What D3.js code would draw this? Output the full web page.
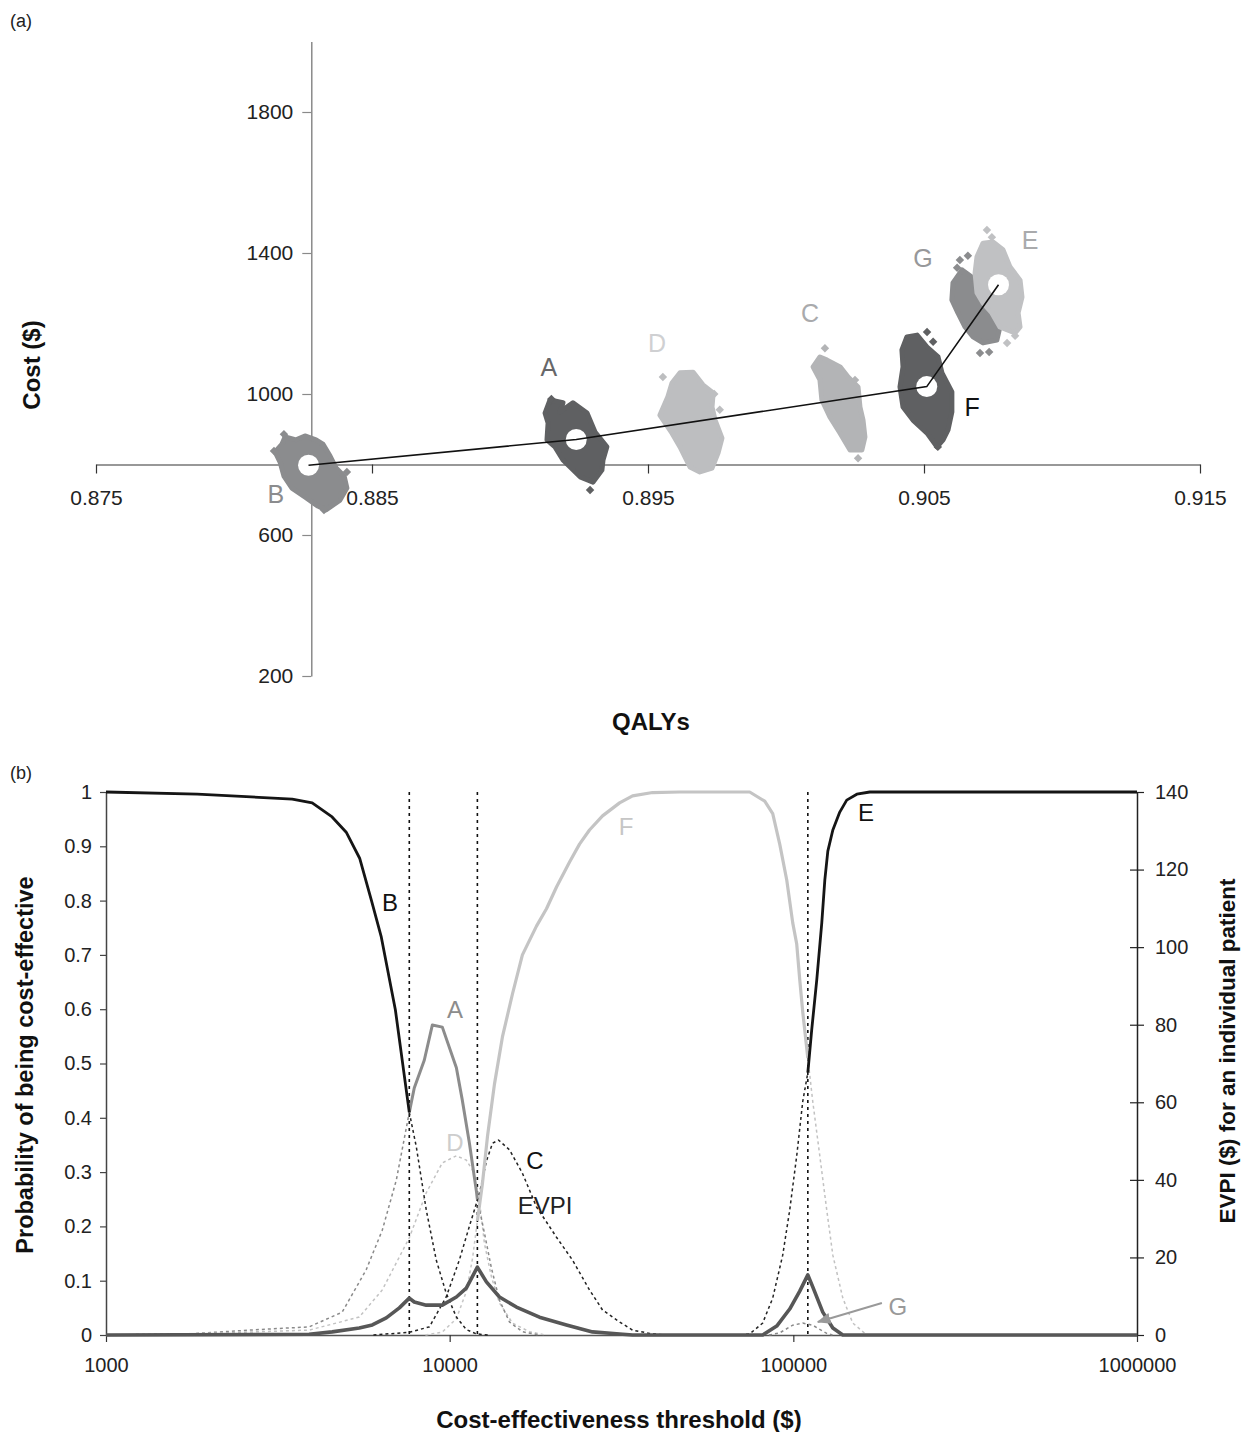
<!DOCTYPE html>
<html><head><meta charset="utf-8">
<script src="https://cdn.jsdelivr.net/npm/d3@7"></script>
<style>
body{margin:0;background:#fff;}
text{font-family:"Liberation Sans",Arial,sans-serif;}
</style></head>
<body>
<svg id="c" width="1243" height="1432"></svg>
<script>
// ---------------- DATA: panel (a) ----------------
const qalyTicks = [0.875, 0.885, 0.895, 0.905, 0.915];
const costTicks = [200, 600, 1000, 1400, 1800];
const axisCross = {qaly: 0.8828, cost: 800};

const cloudB = [[0.88185,878],[0.88225,870],[0.88257,881],[0.88297,870],[0.88322,858],[0.88348,824],[0.88370,790],[0.88399,767],[0.88409,733],[0.88384,699],[0.88333,671],[0.88304,682],[0.88257,708],[0.88210,733],[0.88181,767],[0.88167,807],[0.88149,836],[0.88174,858]];
const outB = [[0.88181,886],[0.88145,838],[0.88409,779],[0.88391,719],[0.88326,671]];
const cloudA = [[0.89145,983],[0.89192,975],[0.89181,949],[0.89228,975],[0.89279,946],[0.89308,892],[0.89351,850],[0.89337,813],[0.89333,784],[0.89301,750],[0.89254,765],[0.89192,813],[0.89163,850],[0.89134,870],[0.89138,918],[0.89127,946]];
const outA = [[0.89290,728],[0.89150,986]];
const cloudD = [[0.89616,1060],[0.89663,1062],[0.89699,1026],[0.89736,1003],[0.89732,963],[0.89743,926],[0.89768,875],[0.89754,833],[0.89732,790],[0.89688,779],[0.89652,793],[0.89616,850],[0.89587,889],[0.89543,940],[0.89572,992],[0.89587,1031]];
const outD = [[0.89554,1048],[0.89740,1000],[0.89760,955]];
const cloudC = [[0.90149,1096],[0.90196,1077],[0.90225,1048],[0.90261,1020],[0.90268,963],[0.90279,926],[0.90286,878],[0.90275,841],[0.90232,841],[0.90196,889],[0.90159,935],[0.90130,983],[0.90123,1040],[0.90098,1077],[0.90123,1105]];
const outC = [[0.90141,1130],[0.90261,818],[0.90250,1040]];
const cloudF = [[0.90438,1162],[0.90475,1167],[0.90511,1133],[0.90551,1105],[0.90565,1060],[0.90601,1006],[0.90601,949],[0.90587,898],[0.90569,870],[0.90547,850],[0.90511,889],[0.90460,926],[0.90424,963],[0.90413,1020],[0.90424,1077],[0.90420,1125]];
const outF = [[0.90511,1176],[0.90533,1148],[0.90550,850]];
const cloudG = [[0.90638,1352],[0.90678,1329],[0.90703,1287],[0.90728,1238],[0.90775,1190],[0.90764,1153],[0.90714,1145],[0.90678,1162],[0.90649,1190],[0.90623,1230],[0.90601,1267],[0.90605,1315]];
const outG = [[0.90630,1380],[0.90659,1392],[0.90620,1358],[0.90703,1116],[0.90736,1119]];
const cloudE = [[0.90714,1428],[0.90750,1431],[0.90786,1409],[0.90812,1360],[0.90848,1323],[0.90855,1275],[0.90841,1230],[0.90848,1190],[0.90830,1173],[0.90775,1190],[0.90746,1230],[0.90714,1258],[0.90692,1287],[0.90685,1343],[0.90692,1389]];
const outE = [[0.90728,1465],[0.90746,1445],[0.90801,1145],[0.90830,1165]];
// expected values (B, A, F, E) forming the efficient frontier
const frontier = [[0.8827,798],[0.8924,871],[0.9051,1021],[0.9077,1310]];
const labelsA = [
  {t:"A", q:0.89141, c:1077}, {t:"B", q:0.88152, c:716}, {t:"C", q:0.90087, c:1230},
  {t:"D", q:0.89533, c:1145}, {t:"E", q:0.90884, c:1437}, {t:"F", q:0.90674, c:963},
  {t:"G", q:0.90496, c:1386}
];

// ---------------- DATA: panel (b) ----------------
const thresholdTicks = [1000, 10000, 100000, 1000000];
const probTicks = [0,0.1,0.2,0.3,0.4,0.5,0.6,0.7,0.8,0.9,1];
const evpiTicks = [0,20,40,60,80,100,120,140];
const switchPoints = [7630, 12040, 110200];

const B_solid = [[1000,1.0],[1842,0.996],[3483,0.987],[3981,0.980],[4549,0.954],[5000,0.926],[5471,0.878],[5917,0.801],[6324,0.733],[6950,0.599],[7630,0.41]];
const B_dot = [[7630,0.41],[8000,0.346],[8550,0.23],[9140,0.138],[9770,0.077],[10460,0.033],[11180,0.01],[11960,0.002],[13000,0]];
const A_dotL = [[1000,0],[1745,0.002],[2609,0.009],[3899,0.015],[4866,0.042],[5715,0.12],[6366,0.193],[6993,0.285],[7630,0.41]];
const A_solid = [[7630,0.41],[7888,0.455],[8435,0.506],[8906,0.571],[9520,0.567],[10460,0.492],[10880,0.433],[11410,0.354],[11960,0.265],[12040,0.25]];
const A_dotR = [[12040,0.25],[12620,0.188],[13230,0.123],[13960,0.064],[14930,0.024],[16280,0.006],[18250,0]];
const D_dot = [[1000,0],[1745,0.002],[3899,0.009],[5456,0.033],[6366,0.083],[7630,0.179],[8550,0.262],[9520,0.317],[10460,0.33],[11180,0.322],[11650,0.304],[12200,0.249],[12620,0.169],[13230,0.107],[13960,0.059],[15230,0.022],[17060,0.006],[19000,0]];
const C_dot = [[6000,0],[7630,0.005],[8730,0.015],[9770,0.07],[10670,0.138],[11410,0.2],[12200,0.26],[12790,0.32],[13320,0.353],[13870,0.359],[14930,0.341],[16280,0.298],[17890,0.236],[20460,0.18],[22770,0.138],[25520,0.083],[27850,0.046],[31220,0.024],[34060,0.009],[38160,0.003],[42000,0]];
const F_dotL = [[8500,0],[9500,0.005],[10460,0.03],[11180,0.08],[11650,0.14],[12040,0.21]];
const F_solid = [[12040,0.21],[12450,0.278],[12880,0.365],[13500,0.462],[14240,0.549],[15230,0.628],[16280,0.70],[17890,0.753],[19130,0.785],[20460,0.825],[22330,0.871],[23870,0.904],[25520,0.93],[27850,0.956],[31220,0.98],[34060,0.993],[38940,0.999],[46670,1.0],[74650,1.0],[82560,0.983],[87100,0.96],[91290,0.904],[95680,0.838],[99600,0.759],[102300,0.72],[104400,0.654],[106500,0.595],[110200,0.51]];
const F_dotR = [[110200,0.51],[113900,0.43],[119400,0.33],[125100,0.23],[130300,0.147],[139300,0.068],[148900,0.022],[163600,0]];
const E_dot = [[70000,0],[74650,0.002],[81440,0.022],[87100,0.068],[93130,0.147],[97600,0.23],[102300,0.33],[106500,0.43],[110200,0.483]];
const E_solid = [[110200,0.483],[113100,0.562],[117000,0.654],[121000,0.759],[123500,0.838],[126000,0.891],[130300,0.93],[136500,0.963],[143000,0.985],[153000,0.996],[166900,1.0],[1000000,1.0]];
const G_dot = [[85000,0],[91290,0.004],[99600,0.018],[106500,0.022],[113900,0.018],[125100,0.003],[130000,0]];
const EVPI = [[1000,0],[3899,0.2],[4550,0.8],[5456,1.8],[5956,2.6],[6540,4.4],[7139,7.0],[7630,9.5],[7888,8.5],[8550,7.7],[9520,7.7],[10460,9.8],[11180,12.1],[12040,17.5],[12790,13.7],[13960,9.8],[15640,7.2],[18250,4.6],[21870,2.6],[26040,0.8],[31220,0.26],[34060,0],[81440,0],[89470,2.3],[97600,6.7],[104400,11.3],[110200,15.5],[113900,12.4],[121800,5.9],[130300,1.8],[139300,0],[1000000,0]];
const labelsB = [
  {t:"B", x:6700, p:0.796}, {t:"A", x:10360, p:0.599}, {t:"D", x:10360, p:0.355},
  {t:"C", x:17700, p:0.322}, {t:"EVPI", x:18940, p:0.239}, {t:"F", x:32600, p:0.937},
  {t:"E", x:162600, p:0.963}, {t:"G", x:201400, p:0.052}
];
const gArrow = [[181000,0.059],[117900,0.024]];

// ---------------- DRAW ----------------
const svg = d3.select("#c");

// ===== Panel (a) =====
const xa = d3.scaleLinear().domain([0.875,0.915]).range([96,1200]);
const ya = d3.scaleLinear().domain([200,2000]).range([676,41.5]);

svg.append("text").attr("x",10).attr("y",27).attr("font-size",18).attr("fill","#222").text("(a)");

const clouds = [
  {poly:cloudB, out:outB, col:"#8b8c8e"},
  {poly:cloudA, out:outA, col:"#5f6062"},
  {poly:cloudD, out:outD, col:"#bdbec0"},
  {poly:cloudC, out:outC, col:"#b3b4b6"},
  {poly:cloudF, out:outF, col:"#5f6062"},
  {poly:cloudG, out:outG, col:"#8b8c8e"},
  {poly:cloudE, out:outE, col:"#c0c1c3"}
];
const cloudLine = d3.line().x(d=>xa(d[0])).y(d=>ya(d[1])).curve(d3.curveLinearClosed);
const diamond = d3.symbol().type(d3.symbolDiamond2).size(46);

const gy = svg.append("g").attr("transform",`translate(${xa(axisCross.qaly)},0)`)
  .call(d3.axisLeft(ya).tickValues(costTicks).tickSize(9).tickSizeOuter(0).tickPadding(9).tickFormat(d3.format("d")));
gy.select(".domain").attr("stroke","#8a8a8a").attr("stroke-width",1.5);
gy.selectAll(".tick line").attr("stroke","#8a8a8a").attr("stroke-width",1.2);
gy.selectAll(".tick text").attr("font-size",21).attr("fill","#222").attr("font-family","Liberation Sans, Arial");

const gx = svg.append("g").attr("transform",`translate(0,${ya(axisCross.cost)})`)
  .call(d3.axisBottom(xa).tickValues(qalyTicks).tickSize(9).tickSizeOuter(0).tickPadding(17).tickFormat(d3.format(".3f")));
gx.select(".domain").attr("stroke","#333").attr("stroke-width",1.2);
gx.selectAll(".tick line").attr("stroke","#333").attr("stroke-width",1.2);
gx.selectAll(".tick text").attr("font-size",21).attr("fill","#222").attr("font-family","Liberation Sans, Arial");

clouds.forEach(c=>{
  svg.append("path").attr("d",cloudLine(c.poly)).attr("fill",c.col).attr("stroke",c.col)
    .attr("stroke-width",5).attr("stroke-linejoin","round");
  svg.selectAll(null).data(c.out).enter().append("path")
    .attr("d",diamond).attr("transform",d=>`translate(${xa(d[0])},${ya(d[1])})`).attr("fill",c.col);
});

svg.selectAll(null).data(frontier).enter().append("circle")
  .attr("cx",d=>xa(d[0])).attr("cy",d=>ya(d[1])).attr("r",10.5).attr("fill","#fff");
svg.append("path").attr("d",d3.line().x(d=>xa(d[0])).y(d=>ya(d[1]))(frontier))
  .attr("fill","none").attr("stroke","#111").attr("stroke-width",1.6);

const labColA = {A:"#676769",B:"#8b8c8e",C:"#a9aaac",D:"#cfd0d2",E:"#a9aaac",F:"#111",G:"#97989a"};
svg.selectAll(null).data(labelsA).enter().append("text")
  .attr("x",d=>xa(d.q)).attr("y",d=>ya(d.c)).attr("dy","0.36em").attr("text-anchor","middle")
  .attr("font-size",25).attr("fill",d=>labColA[d.t]).text(d=>d.t);

svg.append("text").attr("transform","translate(40,365) rotate(-90)").attr("text-anchor","middle")
  .attr("font-size",24).attr("font-weight","bold").attr("fill","#111").text("Cost ($)");
svg.append("text").attr("x",651).attr("y",730).attr("text-anchor","middle")
  .attr("font-size",24).attr("font-weight","bold").attr("fill","#111").text("QALYs");

// ===== Panel (b) =====
const xb = d3.scaleLog().domain([1000,1000000]).range([106,1137]);
const yb = d3.scaleLinear().domain([0,1]).range([1335,792]);
const ye = d3.scaleLinear().domain([0,140]).range([1335,792]);

svg.append("text").attr("x",10).attr("y",779).attr("font-size",18).attr("fill","#222").text("(b)");

const gl = svg.append("g").attr("transform","translate(106,0)")
  .call(d3.axisLeft(yb).tickValues(probTicks).tickSize(6).tickSizeOuter(0).tickPadding(8).tickFormat(d=>String(d)));
gl.select(".domain").attr("stroke","#444").attr("stroke-width",1.5);
gl.selectAll(".tick line").attr("stroke","#444").attr("stroke-width",1.2);
gl.selectAll(".tick text").attr("font-size",20).attr("fill","#222").attr("font-family","Liberation Sans, Arial");

const gr = svg.append("g").attr("transform","translate(1137,0)")
  .call(d3.axisRight(ye).tickValues(evpiTicks).tickSize(7).tickSizeOuter(0).tickPadding(11).tickFormat(d3.format("d")));
gr.select(".domain").attr("stroke","#222").attr("stroke-width",1.5);
gr.selectAll(".tick line").attr("x1",-7).attr("stroke","#222").attr("stroke-width",1.2);
gr.selectAll(".tick text").attr("font-size",20).attr("fill","#222").attr("font-family","Liberation Sans, Arial");

const gb = svg.append("g").attr("transform","translate(0,1335)")
  .call(d3.axisBottom(xb).tickValues(thresholdTicks).tickSize(7).tickSizeOuter(0).tickPadding(16).tickFormat(d3.format("d")));
gb.select(".domain").attr("stroke","#555").attr("stroke-width",1.5);
gb.selectAll(".tick line").attr("stroke","#333").attr("stroke-width",1.2);
gb.selectAll(".tick text").attr("font-size",20).attr("fill","#222").attr("font-family","Liberation Sans, Arial");

svg.selectAll(null).data(switchPoints).enter().append("line")
  .attr("x1",d=>xb(d)).attr("x2",d=>xb(d)).attr("y1",yb(1)).attr("y2",yb(0))
  .attr("stroke","#111").attr("stroke-width",1.6).attr("stroke-dasharray","3,4");

const lp = d3.line().x(d=>xb(d[0])).y(d=>yb(d[1]));
const le = d3.line().x(d=>xb(d[0])).y(d=>ye(d[1]));

const dotted = [
  {d:A_dotL, col:"#8a8a8a"}, {d:D_dot, col:"#c2c2c2"}, {d:A_dotR, col:"#8a8a8a"},
  {d:F_dotL, col:"#c6c6c6"}, {d:B_dot, col:"#222"}, {d:C_dot, col:"#222"},
  {d:F_dotR, col:"#c2c2c2"}, {d:E_dot, col:"#222"}, {d:G_dot, col:"#8a8a8a"}
];
dotted.forEach(s=>{
  svg.append("path").attr("d",lp(s.d)).attr("fill","none").attr("stroke",s.col)
    .attr("stroke-width",1.5).attr("stroke-dasharray","3,3");
});

const solids = [
  {d:F_solid, col:"#c4c4c4", w:3.2}, {d:A_solid, col:"#8c8c8c", w:3},
  {d:B_solid, col:"#151515", w:2.8}, {d:E_solid, col:"#151515", w:2.8}
];
solids.forEach(s=>{
  svg.append("path").attr("d",lp(s.d)).attr("fill","none").attr("stroke",s.col)
    .attr("stroke-width",s.w).attr("stroke-linejoin","round");
});

svg.append("path").attr("d",le(EVPI)).attr("fill","none").attr("stroke","#575757")
  .attr("stroke-width",3.6).attr("stroke-linejoin","round");

svg.append("defs").append("marker").attr("id","ah").attr("viewBox","0 0 10 10")
  .attr("refX",9).attr("refY",5).attr("markerWidth",7).attr("markerHeight",7).attr("orient","auto")
  .append("path").attr("d","M0,1 L10,5 L0,9 z").attr("fill","#999");
svg.append("line").attr("x1",xb(gArrow[0][0])).attr("y1",yb(gArrow[0][1]))
  .attr("x2",xb(gArrow[1][0])).attr("y2",yb(gArrow[1][1]))
  .attr("stroke","#999").attr("stroke-width",2).attr("marker-end","url(#ah)");

const labColB = {B:"#111",A:"#8c8c8c",D:"#cdcdcd",C:"#111",EVPI:"#222",F:"#c6c6c6",E:"#111",G:"#999"};
svg.selectAll(null).data(labelsB).enter().append("text")
  .attr("x",d=>xb(d.x)).attr("y",d=>yb(d.p)).attr("dy","0.36em").attr("text-anchor","middle")
  .attr("font-size",24).attr("fill",d=>labColB[d.t]).text(d=>d.t);

svg.append("text").attr("transform","translate(33,1065) rotate(-90)").attr("text-anchor","middle")
  .attr("font-size",23.5).attr("font-weight","bold").attr("fill","#111").text("Probability of being cost-effective");
svg.append("text").attr("transform","translate(1235,1051) rotate(-90)").attr("text-anchor","middle")
  .attr("font-size",22.5).attr("font-weight","bold").attr("fill","#111").text("EVPI ($) for an individual patient");
svg.append("text").attr("x",619).attr("y",1428).attr("text-anchor","middle")
  .attr("font-size",24).attr("font-weight","bold").attr("fill","#111").text("Cost-effectiveness threshold ($)");
</script>
</body></html>
